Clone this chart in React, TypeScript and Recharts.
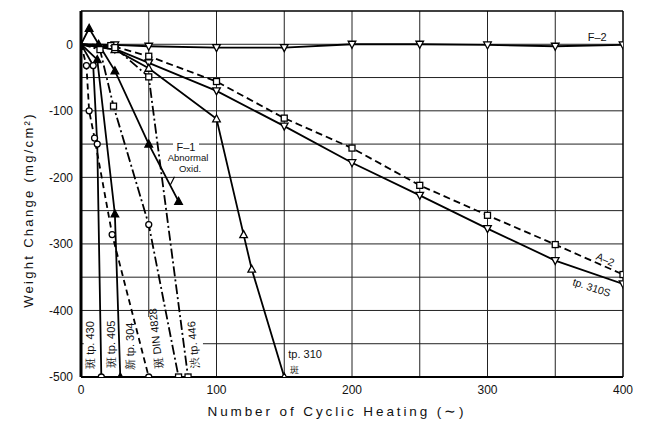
import React from 'react';
import { LineChart, Line, XAxis, YAxis, CartesianGrid, ReferenceDot, ReferenceLine, ReferenceArea } from 'recharts';

// ---- data (cycles, weight change mg/cm2) ----
const xTicks = [0, 100, 200, 300, 400];
const yTicks = [0, -100, -200, -300, -400, -500];
const gridX = [50, 100, 150, 200, 250, 300, 350];
const gridY = [0, -50, -100, -150, -200, -250, -300, -350, -400, -450];

const f2 = [[0, 0], [25, -1], [50, -3], [100, -5], [150, -5], [200, 0], [250, 0], [300, -1], [350, -3], [400, -1]];
const a2 = [[0, 0], [22, -2], [50, -18], [100, -56], [150, -111], [200, -156], [250, -212], [300, -257], [350, -301], [400, -346]];
const tp310S = [[0, 0], [25, -7], [50, -28], [100, -70], [150, -123], [200, -178], [250, -227], [300, -277], [350, -325], [400, -360]];
const tp310 = [[0, 0], [25, -8], [50, -36], [100, -112], [120, -286], [126, -338], [150, -500]];
const f1 = [[0, 0], [6, 24], [13, 0], [25, -40], [50, -150], [72, -236]];
const tp405 = [[0, 0], [12, -23], [25, -255], [29, -500]];
const tp430 = [[0, 0], [9, -32], [12, -150], [15, -500]];
const tp304 = [[0, 0], [4, -32], [6, -100], [10, -141], [23, -286], [50, -500]];
const din4828 = [[0, 0], [14, -8], [24, -93], [50, -271], [72, -500]];
const tp446 = [[0, 0], [25, -5], [50, -49], [79, -500]];

const toData = (arr: number[][]) => arr.map(([x, y]) => ({ x, y }));

type Shape = 'circle' | 'square' | 'tri' | 'triF' | 'triDown';

const series: { name: string; data: number[][]; shape: Shape; dash?: string; shapes?: Record<number, Shape> }[] = [
  { name: 'F-2', data: f2, shape: 'triDown' },
  { name: 'A-2', data: a2, shape: 'square', dash: '7 4' },
  { name: 'tp.310S', data: tp310S, shape: 'triDown' },
  { name: 'tp.310', data: tp310, shape: 'tri' },
  { name: 'F-1', data: f1, shape: 'triF' },
  { name: 'tp.405', data: tp405, shape: 'triF' },
  { name: 'tp.430', data: tp430, shape: 'circle' },
  { name: 'tp.304', data: tp304, shape: 'circle', dash: '6 4' },
  { name: 'DIN4828', data: din4828, shape: 'square', dash: '10 3 2 3', shapes: { 3: 'circle' } },
  { name: 'tp.446', data: tp446, shape: 'square', dash: '10 3 2 3' },
];

const FONT = '"Liberation Sans", Arial, sans-serif';

function Marker({ cx, cy, shape }: { cx: number; cy: number; shape: Shape }) {
  const sw = 1.3;
  switch (shape) {
    case 'circle':
      return <circle cx={cx} cy={cy} r={3} fill="#fff" stroke="#000" strokeWidth={sw} />;
    case 'square':
      return <rect x={cx - 3} y={cy - 3} width={6} height={6} fill="#fff" stroke="#000" strokeWidth={sw} />;
    case 'tri':
      return <path d={`M${cx},${cy - 4}L${cx + 3.8},${cy + 3}L${cx - 3.8},${cy + 3}Z`} fill="#fff" stroke="#000" strokeWidth={sw} />;
    case 'triF':
      return <path d={`M${cx},${cy - 4}L${cx + 3.8},${cy + 3}L${cx - 3.8},${cy + 3}Z`} fill="#000" stroke="#000" strokeWidth={sw} />;
    case 'triDown':
    default:
      return <path d={`M${cx},${cy + 4}L${cx + 3.8},${cy - 3}L${cx - 3.8},${cy - 3}Z`} fill="#fff" stroke="#000" strokeWidth={sw} />;
  }
}

const textShape = (txt: string, opts: { size?: number; rotate?: number; anchor?: string; bg?: number[] } = {}) =>
  (p: any) => {
    const { cx, cy } = p;
    const size = opts.size ?? 11;
    const rot = opts.rotate ?? 0;
    return (
      <g transform={`rotate(${rot}, ${cx}, ${cy})`}>
        {opts.bg && <rect x={cx - opts.bg[0] / 2} y={cy - opts.bg[1] / 2} width={opts.bg[0]} height={opts.bg[1]} fill="#fff" />}
        <text x={cx} y={cy} textAnchor={(opts.anchor as any) ?? 'middle'} dominantBaseline="central" fontSize={size} fontFamily={FONT} fill="#111">{txt}</text>
      </g>
    );
  };

const labels: { x: number; y: number; text: string; size?: number; rotate?: number; anchor?: string; bg?: number[] }[] = [
  { x: 381, y: 11, text: 'F\u20132', size: 11 },
  { x: 387, y: -323, text: 'A\u20132', size: 10.5, rotate: 24 },
  { x: 377, y: -365, text: 'tp. 310S', size: 10.5, rotate: 18 },
  { x: 153, y: -466, text: 'tp. 310', size: 11, anchor: 'start' },
  { x: 154, y: -490, text: '斑', size: 9, anchor: 'start' },
  { x: 77.5, y: -155, text: 'F\u20131', size: 11, bg: [26, 11] },
  { x: 79, y: -170, text: 'Abnormal', size: 9.5 },
  { x: 80.5, y: -187, text: 'Oxid.', size: 9.5 },
  { x: 6.3, y: -452, text: '斑 tp. 430', size: 11, rotate: -90 },
  { x: 22, y: -451, text: '斑 tp. 405', size: 11, rotate: -90 },
  { x: 36, y: -454, text: '新 tp. 304', size: 11, rotate: -90 },
  { x: 55, y: -442, text: '斑 DIN 4828', size: 11, rotate: -96 },
  { x: 82.7, y: -452, text: '渋 tp. 446', size: 11, rotate: -95 },
];

export default function App() {
  return (
    <div style={{ position: 'absolute', left: 0, top: 0, width: 645, height: 428, background: '#fff' }}>
      <LineChart width={645} height={428} margin={{ top: 11, right: 22, bottom: 21, left: 21 }}>
        <CartesianGrid stroke="#222" strokeWidth={1} horizontalValues={gridY} verticalValues={gridX} />
        <ReferenceArea x1={2} x2={90} y1={-496} y2={-410} fill="#fff" fillOpacity={1} stroke="none" />
        <XAxis type="number" dataKey="x" domain={[0, 400]} ticks={xTicks} height={30} allowDataOverflow
          axisLine={{ stroke: '#000', strokeWidth: 2 }} tickLine={false} tickSize={0} tickMargin={8}
          tick={{ fill: '#111', fontSize: 12, fontFamily: FONT }} />
        <YAxis type="number" dataKey="y" domain={[-500, 50]} ticks={yTicks} width={60} allowDataOverflow
          axisLine={{ stroke: '#000', strokeWidth: 3 }} tickLine={false} tickSize={0} tickMargin={8}
          tick={{ fill: '#111', fontSize: 12, fontFamily: FONT }} />
        <ReferenceLine y={50} stroke="#000" strokeWidth={1.5} />
        <ReferenceLine x={400} stroke="#000" strokeWidth={1.5} />
        <ReferenceLine segment={[{ x: 69, y: -199 }, { x: 66, y: -211 }]} stroke="#000" strokeWidth={1.2} />
        {series.map((s) => (
          <Line key={s.name} data={toData(s.data)} dataKey="y" name={s.name} type="linear" stroke="#000" strokeWidth={1.8}
            strokeDasharray={s.dash} isAnimationActive={false} legendType="none"
            dot={(p: any) => {
              const key = `${s.name}-${p.index}`;
              if (p.payload.x === 0) return <g key={key} />;
              const shp = (s.shapes && s.shapes[p.index]) || s.shape;
              return <g key={key}><Marker cx={p.cx} cy={p.cy} shape={shp} /></g>;
            }}
            activeDot={false} />
        ))}
        {labels.map((l, i) => (
          <ReferenceDot key={i} x={l.x} y={l.y} r={0} ifOverflow="visible"
            shape={textShape(l.text, { size: l.size, rotate: l.rotate, anchor: l.anchor, bg: l.bg })} />
        ))}
      </LineChart>
      <svg width={645} height={428} style={{ position: 'absolute', left: 0, top: 0, pointerEvents: 'none' }}>
        <text x={337} y={416} textAnchor="middle" fontSize={13.5} letterSpacing={2.9} fontFamily={FONT} fill="#111">
          Number of Cyclic Heating (∼)
        </text>
        <text x={0} y={0} transform="translate(33,210) rotate(-90)" textAnchor="middle" fontSize={13} letterSpacing={2.3} fontFamily={FONT} fill="#111">
          Weight Change (mg/cm²)
        </text>
      </svg>
    </div>
  );
}
